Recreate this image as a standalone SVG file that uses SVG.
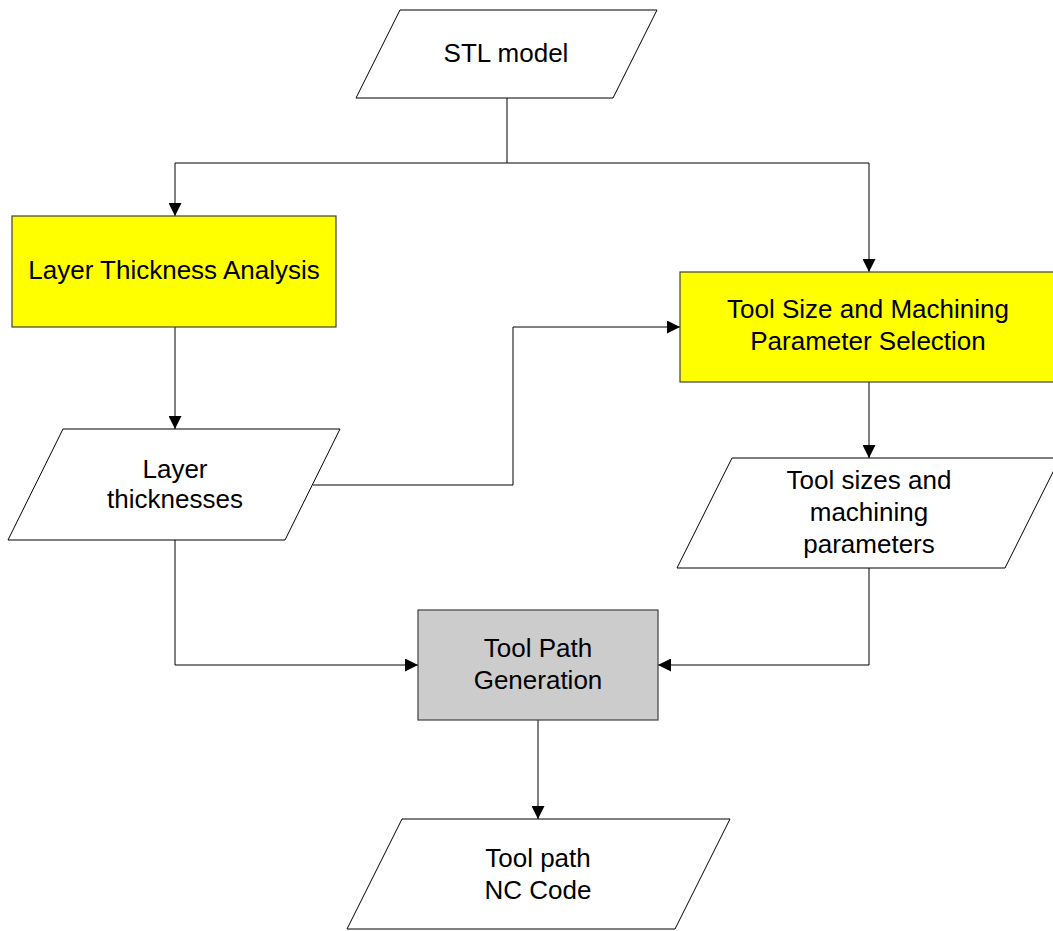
<svg xmlns="http://www.w3.org/2000/svg" width="1053" height="931" viewBox="0 0 1053 931">
<defs>
<marker id="arr" viewBox="0 0 13 13" refX="13" refY="6.5" markerWidth="13" markerHeight="13" markerUnits="userSpaceOnUse" orient="auto">
<path d="M0,0 L13,6.5 L0,13 Z" fill="#000"/>
</marker>
</defs>
<style>
.io{fill:#fff;stroke:#000;stroke-width:1}
.proc{stroke:#404040;stroke-width:1.2}
.yel{fill:#ffff00}
.gry{fill:#cccccc}
.t{font-family:"Liberation Sans",Arial,sans-serif;font-size:26px;fill:#000;text-anchor:middle}
.c{fill:none;stroke:#000;stroke-width:1}
</style>
<rect width="1053" height="931" fill="#fff"/>
<g id="connectors">
<path class="c" d="M507,98 V163"/>
<path class="c" d="M175,163 H869"/>
<path class="c" d="M175,163 V216" marker-end="url(#arr)"/>
<path class="c" d="M869,163 V272" marker-end="url(#arr)"/>
<path class="c" d="M175,327 V429" marker-end="url(#arr)"/>
<path class="c" d="M313,485 H513 V327 H680" marker-end="url(#arr)"/>
<path class="c" d="M869,382 V458" marker-end="url(#arr)"/>
<path class="c" d="M175,540 V665 H418" marker-end="url(#arr)"/>
<path class="c" d="M869,568 V665 H658" marker-end="url(#arr)"/>
<path class="c" d="M538,720 V819" marker-end="url(#arr)"/>
</g>
<g id="stl">
<polygon class="io" points="400,10 657,10 613,98 356,98"/>
<text class="t" x="506" y="62">STL model</text>
</g>
<g id="lta">
<rect class="proc yel" x="12" y="216" width="324" height="111"/>
<text class="t" x="174" y="279">Layer Thickness Analysis</text>
</g>
<g id="tsmps">
<rect class="proc yel" x="680" y="272" width="376" height="110"/>
<text class="t" x="868" y="318">Tool Size and Machining</text>
<text class="t" x="868" y="350">Parameter Selection</text>
</g>
<g id="lt">
<polygon class="io" points="63,429 340,429 285,540 8,540"/>
<text class="t" x="175" y="478">Layer</text>
<text class="t" x="175" y="508">thicknesses</text>
</g>
<g id="tsmp">
<polygon class="io" points="732,458 1060,458 1005,568 677,568"/>
<text class="t" x="869" y="489">Tool sizes and</text>
<text class="t" x="869" y="521">machining</text>
<text class="t" x="869" y="553">parameters</text>
</g>
<g id="tpg">
<rect class="proc gry" x="418" y="610" width="240" height="110"/>
<text class="t" x="538" y="657">Tool Path</text>
<text class="t" x="538" y="689">Generation</text>
</g>
<g id="nc">
<polygon class="io" points="402,819 730,819 675,929 347,929"/>
<text class="t" x="538" y="867">Tool path</text>
<text class="t" x="538" y="899">NC Code</text>
</g>
</svg>
